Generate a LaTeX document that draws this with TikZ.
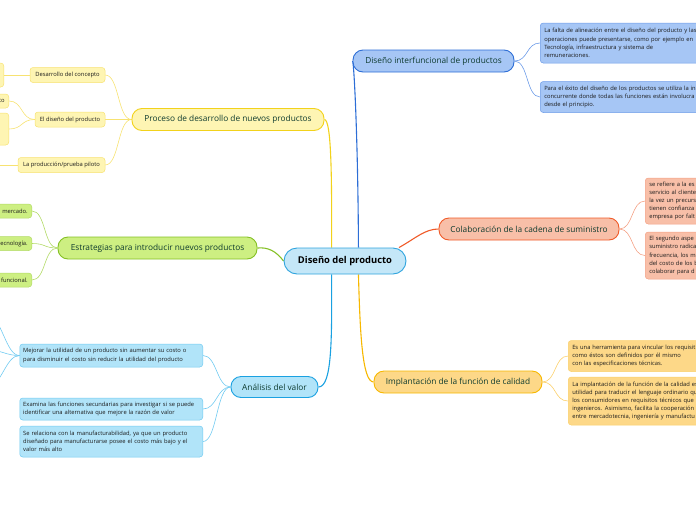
\documentclass[tikz,border=0pt]{standalone}
\usepackage{fontspec}
\setmainfont{Open Sans}
\usepackage{tikz}
\definecolor{DPTopicText}{HTML}{0D3A2E}
\definecolor{DPLeafText}{HTML}{1A1A1A}
\definecolor{DPCentreFill}{HTML}{C4E7F8}
\definecolor{DPCentreLine}{HTML}{2FA4DE}
\definecolor{DPBlueFill}{HTML}{A6C6F5}
\definecolor{DPBlueLine}{HTML}{2D6ED6}
\definecolor{DPBlueSub}{HTML}{6C9BE8}
\definecolor{DPRedFill}{HTML}{F8BFA8}
\definecolor{DPRedLine}{HTML}{F05A28}
\definecolor{DPRedSub}{HTML}{F4A185}
\definecolor{DPOrangeFill}{HTML}{FDD888}
\definecolor{DPOrangeLine}{HTML}{F7B800}
\definecolor{DPOrangeSub}{HTML}{FBD06A}
\definecolor{DPSkyFill}{HTML}{B1E4F9}
\definecolor{DPSkyLine}{HTML}{1AA1E1}
\definecolor{DPSkySub}{HTML}{72CBF1}
\definecolor{DPGreenFill}{HTML}{CDEF82}
\definecolor{DPGreenLine}{HTML}{84C024}
\definecolor{DPGreenSub}{HTML}{B2DA66}
\definecolor{DPYellowFill}{HTML}{FEF5B3}
\definecolor{DPYellowLine}{HTML}{F2D21B}
\definecolor{DPYellowSub}{HTML}{F7E271}
\pgfdeclarelayer{links}
\pgfsetlayers{links,main}
\tikzset{
  topic/.style={draw, line width=0.9pt, rounded corners=10pt, inner sep=0pt,
    minimum height=22pt, text=DPTopicText, font=\fontsize{8.3}{9}\selectfont},
  leaf/.style={draw, line width=0.5pt, rounded corners=3pt, inner xsep=4pt,
    inner ysep=0pt, align=left, text=DPLeafText, font=\fontsize{5.8}{8.2}\selectfont},
  link/.style={line width=0.6pt},
  mainlink/.style={line width=1.1pt}
}

\begin{document}
\begin{tikzpicture}[x=1pt,y=-1pt]
\path[use as bounding box] (0,0) rectangle (696,520);
\clip (0,0) rectangle (696,520);
\node[topic, fill=DPCentreFill, draw=DPCentreLine, minimum width=122pt, minimum height=26pt,
  rounded corners=13pt, text=black, font=\fontsize{9.4}{11}\selectfont\bfseries] (centre) at (345,261) {Diseño del producto};

\node[topic, fill=DPBlueFill, draw=DPBlueLine, minimum width=161pt] (interf) at (433.5,61) {Diseño interfuncional de productos};
\node[leaf, fill=DPBlueFill, draw=DPBlueSub, text width=200pt, minimum height=40pt, anchor=west] (interfA) at (540,43)
  {La falta de alineación entre el diseño del producto y las\\operaciones puede presentarse, como por ejemplo en\\Tecnología, infraestructura y sistema de\\remuneraciones.};
\node[leaf, fill=DPBlueFill, draw=DPBlueSub, text width=200pt, minimum height=31pt, anchor=west] (interfB) at (540,97)
  {Para el éxito del diseño de los productos se utiliza la in\\concurrente donde todas las funciones están involucra\\desde el principio.};

\node[topic, fill=DPRedFill, draw=DPRedLine, minimum width=180pt] (colab) at (529,229) {Colaboración de la cadena de suministro};
\node[leaf, fill=DPRedFill, draw=DPRedSub, text width=120pt, minimum height=46pt, anchor=west] (colabA) at (645,201)
  {se refiere a la es\\servicio al cliente\\la vez un precurs\\tienen confianza\\empresa por falt};
\node[leaf, fill=DPRedFill, draw=DPRedSub, text width=120pt, minimum height=47pt, anchor=west] (colabB) at (645,255.5)
  {El segundo aspe\\suministro radica\\frecuencia, los m\\del costo de los b\\colaborar para d};

\node[topic, fill=DPOrangeFill, draw=DPOrangeLine, minimum width=168pt] (impl) at (458,382) {Implantación de la función de calidad};
\node[leaf, fill=DPOrangeFill, draw=DPOrangeSub, text width=180pt, minimum height=31pt, anchor=west] (implA) at (568,356)
  {Es una herramienta para vincular los requisit\\como éstos son definidos por él mismo\\con las especificaciones técnicas.};
\node[leaf, fill=DPOrangeFill, draw=DPOrangeSub, text width=180pt, minimum height=48pt, anchor=west] (implB) at (568,401)
  {La implantación de la función de la calidad es\\utilidad para traducir el lenguaje ordinario qu\\los consumidores en requisitos técnicos que\\ingenieros. Asimismo, facilita la cooperación\\entre mercadotecnia, ingeniería y manufactu};

\node[topic, fill=DPSkyFill, draw=DPSkyLine, minimum width=87pt, minimum height=21pt] (anal) at (274.5,387) {Análisis del valor};
\node[leaf, fill=DPSkyFill, draw=DPSkySub, text width=176pt, inner xsep=3.5pt, minimum height=23pt, anchor=east] (analA) at (203,355.5)
  {Mejorar la utilidad de un producto sin aumentar su costo o\\para disminuir el costo sin reducir la utilidad del producto};
\node[leaf, fill=DPSkyFill, draw=DPSkySub, text width=176pt, inner xsep=3.5pt, minimum height=22pt, anchor=east] (analB) at (203,409)
  {Examina las funciones secundarias para investigar si se puede\\identificar una alternativa que mejore la razón de valor};
\node[leaf, fill=DPSkyFill, draw=DPSkySub, text width=176pt, inner xsep=3.5pt, minimum height=31pt, anchor=east] (analC) at (203,441.5)
  {Se relaciona con la manufacturabilidad, ya que un producto\\diseñado para manufacturarse posee el costo más bajo y el\\valor más alto};
\coordinate (analAa) at (-12,316);
\coordinate (analAb) at (-12,350);
\coordinate (analAc) at (-12,386);

\node[topic, fill=DPGreenFill, draw=DPGreenLine, minimum width=199pt] (strat) at (157.5,248) {Estrategias para introducir nuevos productos};
\node[leaf, fill=DPGreenFill, draw=DPGreenSub, text width=60pt, align=right, minimum height=14pt, anchor=east] (stratA) at (32,211) {mercado.};
\node[leaf, fill=DPGreenFill, draw=DPGreenSub, text width=60pt, align=right, minimum height=14pt, anchor=east] (stratB) at (32,243.5) {ecnología.};
\node[leaf, fill=DPGreenFill, draw=DPGreenSub, text width=60pt, align=right, minimum height=14pt, anchor=east] (stratC) at (32,280) {funcional.};

\node[topic, fill=DPYellowFill, draw=DPYellowLine, minimum width=192pt] (proc) at (228,119.5) {Proceso de desarrollo de nuevos productos};
\node[leaf, fill=DPYellowFill, draw=DPYellowSub, minimum width=75pt, minimum height=15pt, inner xsep=2pt] (concept) at (67.5,75) {Desarrollo del concepto};
\node[leaf, fill=DPYellowFill, draw=DPYellowSub, minimum width=70pt, minimum height=15pt, inner xsep=2pt] (design) at (70,119.5) {El diseño del producto};
\node[leaf, fill=DPYellowFill, draw=DPYellowSub, minimum width=87pt, minimum height=15pt, inner xsep=2pt] (pilot) at (61.5,165) {La producción/prueba piloto};
\node[leaf, fill=DPYellowFill, draw=DPYellowSub, minimum width=40pt, minimum height=24pt, anchor=east] (conceptA) at (4,75) {};
\node[leaf, fill=DPYellowFill, draw=DPYellowSub, text width=32pt, align=right, minimum height=14pt, anchor=east] (designA) at (9,101) {to};
\node[leaf, fill=DPYellowFill, draw=DPYellowSub, minimum width=40pt, minimum height=32pt, anchor=east] (designB) at (9,129) {};
\coordinate (pilotA) at (-12,165);

\begin{pgfonlayer}{links}
\draw[mainlink, DPYellowLine] (centre.135) .. controls (332,170) and (331,120) .. (proc.east);
\draw[mainlink, DPBlueLine] (centre.45) .. controls (358,140) and (354,62) .. (interf.west);
\draw[mainlink, DPRedLine] (centre.14) .. controls (416,238) and (425,229) .. (colab.west);
\draw[mainlink, DPGreenLine] (strat.east) .. controls (268,247) and (276,251) .. (centre.west);
\draw[mainlink, DPSkyLine] (centre.225) .. controls (332,340) and (332,387) .. (anal.east);
\draw[mainlink, DPOrangeLine] (centre.-45) .. controls (360,330) and (362,382) .. (impl.west);
\foreach \kid in {interfA,interfB} \draw[link, DPBlueSub] (interf.east) .. controls +(14,0) and +(-14,0) .. (\kid.west);
\foreach \kid in {colabA,colabB} \draw[link, DPRedSub] (colab.east) .. controls +(14,0) and +(-14,0) .. (\kid.west);
\foreach \kid in {implA,implB} \draw[link, DPOrangeSub] (impl.east) .. controls +(14,0) and +(-14,0) .. (\kid.west);
\foreach \kid in {analA,analB,analC} \draw[link, DPSkySub] (anal.west) .. controls +(-14,0) and +(14,0) .. (\kid.east);
\foreach \kid in {analAa,analAb,analAc} \draw[link, DPSkySub] (analA.west) .. controls +(-14,0) and +(14,0) .. (\kid);
\foreach \kid in {stratA,stratB,stratC} \draw[link, DPGreenSub] (strat.west) .. controls +(-14,0) and +(14,0) .. (\kid.east);
\foreach \kid in {concept,design,pilot} \draw[link, DPYellowSub] (proc.west) .. controls +(-14,0) and +(14,0) .. (\kid.east);
\draw[link, DPYellowSub] (concept.west) -- (conceptA.east);
\foreach \kid in {designA,designB} \draw[link, DPYellowSub] (design.west) .. controls +(-14,0) and +(14,0) .. (\kid.east);
\draw[link, DPYellowSub] (pilot.west) -- (pilotA);
\end{pgfonlayer}
\end{tikzpicture}
\end{document}
